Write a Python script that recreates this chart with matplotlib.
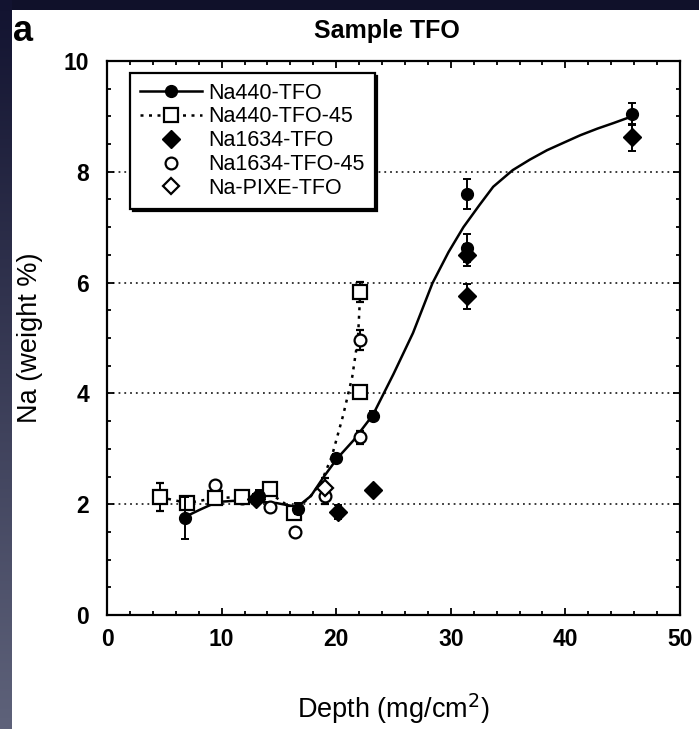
import numpy as np
import matplotlib
matplotlib.use("Agg")
import matplotlib.pyplot as plt
from matplotlib.ticker import MultipleLocator

plt.rcParams['font.family'] = ['Liberation Sans', 'DejaVu Sans']

# Na440-TFO (filled circles)
na440_x = [6.8, 13.3, 16.7, 20.0, 23.2, 31.4, 31.4, 45.8]
na440_y = [1.75, 2.15, 1.92, 2.83, 3.60, 7.60, 6.62, 9.05]
na440_err = [0.38, 0.10, 0.10, 0.08, 0.08, 0.27, 0.25, 0.20]

# fitted curve through Na440-TFO
fit440_x = [6.8, 8.1, 9.6, 11.0, 13.0, 14.8, 16.6, 17.8, 18.9, 20.1, 21.5, 23.2,
            25.0, 26.7, 28.4, 29.8, 31.1, 32.5, 33.7, 35.4, 36.9, 38.4, 39.9,
            41.3, 42.8, 44.2, 45.8]
fit440_y = [1.77, 1.90, 2.04, 2.06, 2.05, 2.02, 1.95, 2.15, 2.49, 2.83, 3.15, 3.61,
            4.35, 5.09, 5.99, 6.55, 7.00, 7.40, 7.73, 8.03, 8.22, 8.39, 8.53,
            8.66, 8.78, 8.88, 9.00]

# Na440-TFO-45 (open squares)
na440_45_x = [4.6, 7.0, 9.4, 11.8, 14.2, 16.3, 22.1, 22.1]
na440_45_y = [2.13, 2.02, 2.11, 2.13, 2.27, 1.84, 4.03, 5.83]
na440_45_err = [0.25, 0.08, 0.08, 0.06, 0.08, 0.08, 0.08, 0.18]

# dotted curve through Na440-TFO-45
fit45_x = [4.6, 7.0, 9.4, 11.8, 14.2, 16.3, 17.6, 18.7, 19.6, 20.6, 21.4, 21.9, 22.1]
fit45_y = [2.13, 2.02, 2.11, 2.13, 2.20, 1.90, 2.10, 2.40, 2.85, 3.60, 4.30, 5.00, 5.83]

# Na1634-TFO (filled diamonds)
na1634_x = [13.0, 20.2, 23.2, 31.4, 31.4, 45.8]
na1634_y = [2.10, 1.86, 2.25, 6.50, 5.75, 8.62]
na1634_err = [0.08, 0.12, 0.05, 0.20, 0.22, 0.25]

# Na1634-TFO-45 (open circles)
na1634_45_x = [9.4, 11.8, 14.2, 16.4, 19.0, 22.1, 22.1]
na1634_45_y = [2.35, 2.12, 1.95, 1.50, 2.15, 3.21, 4.96]
na1634_45_err = [0.05, 0.05, 0.05, 0.05, 0.15, 0.12, 0.18]

# Na-PIXE-TFO (open diamonds)
pixe_x = [19.0]
pixe_y = [2.30]
pixe_err = [0.18]

x_ticks = [0, 10, 20, 30, 40, 50]
y_ticks = [0, 2, 4, 6, 8, 10]
legend_labels = ['Na440-TFO', 'Na440-TFO-45', 'Na1634-TFO', 'Na1634-TFO-45', 'Na-PIXE-TFO']

W, H = 699, 729
fig = plt.figure(figsize=(W / 100, H / 100), dpi=100, facecolor='white')

# dark frame: top band and left gradient strip
top = fig.add_axes([0, 1 - 10 / H, 1, 10 / H])
top.set_axis_off()
top.add_patch(plt.Rectangle((0, 0), 1, 1, color='#10112a', transform=top.transAxes))
left = fig.add_axes([0, 0, 12 / W, 1])
grad = np.linspace(0, 1, 256)[:, None]
c0 = np.array([0x12, 0x13, 0x30]) / 255
c1 = np.array([0x5e, 0x62, 0x7a]) / 255
img = c0[None, None, :] * (1 - grad[:, :, None]) + c1[None, None, :] * grad[:, :, None]
left.imshow(img, aspect='auto', extent=[0, 1, 1, 0])
left.set_axis_off()

ax = fig.add_axes([107 / W, 1 - 615 / H, 573 / W, 554 / H])

for y in [2, 4, 6, 8]:
    ax.axhline(y, color='#2a2a2a', linestyle=(0, (1, 2.2)), linewidth=1.3, zorder=1)

line_solid, = ax.plot(fit440_x, fit440_y, color='black', linewidth=1.8, zorder=2)
line_dot, = ax.plot(fit45_x, fit45_y, color='black', linewidth=1.8,
                    linestyle=(0, (1.2, 2.2)), zorder=2)

eb = dict(ecolor='black', elinewidth=1.4, capsize=3, capthick=1.4, linestyle='none')

ax.errorbar(na1634_45_x, na1634_45_y, yerr=na1634_45_err, fmt='o', ms=8.5,
            mfc='white', mec='black', mew=1.6, zorder=4, **eb)
ax.errorbar(pixe_x, pixe_y, yerr=pixe_err, fmt='D', ms=8,
            mfc='white', mec='black', mew=1.6, zorder=4, **eb)
ax.errorbar(na440_45_x, na440_45_y, yerr=na440_45_err, fmt='s', ms=10.5,
            mfc='white', mec='black', mew=1.6, zorder=5, **eb)
ax.errorbar(na1634_x, na1634_y, yerr=na1634_err, fmt='D', ms=9.5,
            mfc='black', mec='black', zorder=6, **eb)
ax.errorbar(na440_x, na440_y, yerr=na440_err, fmt='o', ms=8.5,
            mfc='black', mec='black', zorder=6, **eb)

ax.set_xlim(0, 50)
ax.set_ylim(0, 10)
ax.set_xticks(x_ticks)
ax.set_yticks(y_ticks)
ax.xaxis.set_minor_locator(MultipleLocator(2))
ax.yaxis.set_minor_locator(MultipleLocator(0.5))
ax.tick_params(which='both', direction='in', top=True, right=True, width=1.3,
               labelsize=16.5)
ax.tick_params(axis='x', pad=9)
ax.tick_params(axis='y', pad=13)
ax.tick_params(which='major', length=5)
ax.tick_params(which='minor', length=3)
for lab in ax.get_xticklabels() + ax.get_yticklabels():
    lab.set_fontweight('bold')
for s in ax.spines.values():
    s.set_linewidth(1.6)

ax.set_xlabel('Depth (mg/cm$^2$)', fontsize=19.5)
ax.xaxis.set_label_coords(0.5, (615 - 692) / 554)
ax.set_ylabel('Na (weight %)', fontsize=19.5)
ax.yaxis.set_label_coords((43 - 107) / 573, 0.5)
fig.text(387 / W, 1 - 31 / H, 'Sample TFO', fontsize=18, fontweight='bold',
         ha='center', va='center')
fig.text(13 / W, 1 - 41 / H, 'a', fontsize=26, fontweight='bold', va='baseline')

h1 = plt.Line2D([], [], color='black', lw=1.8, marker='o', ms=8.5, mfc='black', mec='black')
h2 = plt.Line2D([], [], color='black', lw=1.8, linestyle=(0, (1.2, 2.2)), marker='s',
                ms=10.5, mfc='white', mec='black', mew=1.6)
h3 = plt.Line2D([], [], linestyle='none', marker='D', ms=9.5, mfc='black', mec='black')
h4 = plt.Line2D([], [], linestyle='none', marker='o', ms=8.5, mfc='white', mec='black', mew=1.6)
h5 = plt.Line2D([], [], linestyle='none', marker='D', ms=8, mfc='white', mec='black', mew=1.6)
leg = ax.legend([h1, h2, h3, h4, h5], legend_labels, loc='upper left',
                bbox_to_anchor=(23 / 573, 1 - 12 / 554), fontsize=15.5,
                frameon=True, fancybox=False, edgecolor='black', framealpha=1,
                handlelength=2.9, handletextpad=0.3, labelspacing=0.13,
                borderpad=0.45, borderaxespad=0,
                shadow={'ox': 2, 'oy': -2, 'color': 'black', 'alpha': 1})
leg.get_frame().set_linewidth(1.6)
leg.set_zorder(10)

fig.savefig('out.png', dpi=100, facecolor='white')
